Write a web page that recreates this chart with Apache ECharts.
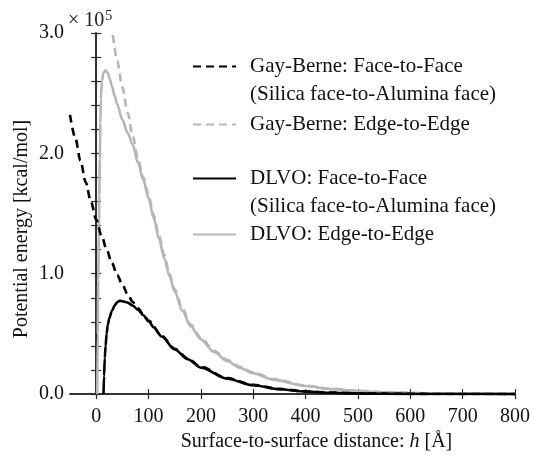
<!DOCTYPE html>
<html>
<head>
<meta charset="utf-8">
<script src="https://cdn.jsdelivr.net/npm/echarts@6/dist/echarts.min.js"></script>
<style>
  html, body { margin: 0; padding: 0; background: #fff; }
  #chart { width: 533px; height: 457px; }
</style>
</head>
<body>
<div id="chart"></div>
<script>
// h in Angstrom, energy in units of 1e5 kcal/mol
const gbFaceH = [-50, -40, -30, -20, -10, 0, 10, 20, 30, 40, 50, 60, 70, 80, 90, 100, 125, 150, 175, 200, 250, 300, 350, 400, 450, 500, 550, 600, 650, 700, 800];
const gbFaceV = [2.32, 2.13, 1.94, 1.76, 1.6, 1.45, 1.32, 1.2, 1.09, 0.99, 0.91, 0.83, 0.765, 0.712, 0.662, 0.611, 0.484, 0.377, 0.297, 0.226, 0.133, 0.077, 0.043, 0.023, 0.0125, 0.0067, 0.0036, 0.002, 0.001, 0.0005, 0];

const gbEdgeH = [20, 30, 40, 50, 60, 70, 80, 90, 100, 110, 120, 130, 140, 150, 165, 180, 200, 225, 250, 275, 300, 340, 400, 450, 500, 550, 600, 650, 700, 800];
const gbEdgeV = [3.3, 3.0, 2.77, 2.55, 2.34, 2.14, 1.95, 1.8, 1.655, 1.485, 1.315, 1.155, 1.0, 0.87, 0.708, 0.58, 0.468, 0.36, 0.284, 0.226, 0.179, 0.124, 0.071, 0.044, 0.027, 0.017, 0.01, 0.006, 0.0035, 0.001];

const dlvoFaceH = [14, 15, 16.5, 18, 20, 22, 25, 30, 35, 40, 45, 50, 60, 70, 80, 90, 100, 110, 125, 150, 175, 200, 250, 300, 350, 400, 450, 500, 550, 600, 700, 800];
const dlvoFaceV = [0, 0.15, 0.3, 0.4, 0.5, 0.57, 0.63, 0.69, 0.735, 0.762, 0.775, 0.772, 0.76, 0.735, 0.7, 0.655, 0.605, 0.555, 0.478, 0.37, 0.29, 0.22, 0.128, 0.073, 0.04, 0.021, 0.011, 0.0057, 0.003, 0.0015, 0.0004, 0];

const dlvoEdgeH = [2, 3, 4, 5, 6, 7, 8, 9, 11, 14, 18, 22, 26, 30, 35, 40, 50, 60, 70, 80, 90, 100, 110, 120, 130, 140, 150, 165, 180, 200, 225, 250, 275, 300, 340, 400, 450, 500, 550, 600, 650, 700, 800];
const dlvoEdgeV = [0, 0.5, 0.95, 1.3, 1.65, 1.95, 2.25, 2.45, 2.6, 2.67, 2.69, 2.67, 2.62, 2.56, 2.48, 2.41, 2.28, 2.17, 2.07, 1.92, 1.78, 1.63, 1.46, 1.29, 1.13, 0.98, 0.85, 0.69, 0.565, 0.455, 0.35, 0.275, 0.218, 0.172, 0.118, 0.067, 0.041, 0.025, 0.015, 0.009, 0.005, 0.003, 0.0005];

const xTicks = [0, 100, 200, 300, 400, 500, 600, 700, 800];
const yLabels = [0, 1, 2, 3];

const names = {
  gbFace: 'Gay-Berne: Face-to-Face',
  gbEdge: 'Gay-Berne: Edge-to-Edge',
  dlvoFace: 'DLVO: Face-to-Face',
  dlvoEdge: 'DLVO: Edge-to-Edge'
};
const subLine = '(Silica face-to-Alumina face)';

const FONT = 'Liberation Serif';
const GRAY = '#b6b7b4';
const AXIS = '#2a2a2a';

const pairs = (h, v) => h.map((x, i) => [x, v[i]]);

// one legend per entry so rows can sit where they are in the picture
function legendAt(name, top) {
  return {
    data: [name],
    left: 192,
    top: top,
    padding: 0,
    itemWidth: 43,
    itemHeight: 14,
    selectedMode: false,
    itemStyle: { opacity: 0, borderWidth: 0 },
    textStyle: { fontFamily: FONT, fontSize: 21, color: '#111', padding: [0, 0, 0, 9], lineHeight: 20 }
  };
}

const chart = echarts.init(document.getElementById('chart'));
chart.setOption({
  animation: false,
  grid: { left: 70, right: 18, top: 33, bottom: 53 },
  legend: [
    legendAt(names.gbFace, 56),
    legendAt(names.gbEdge, 114),
    legendAt(names.dlvoFace, 168),
    legendAt(names.dlvoEdge, 224)
  ],
  graphic: [
    { type: 'text', left: 250, top: 84, style: { text: subLine, font: '21px "Liberation Serif"', fill: '#111' } },
    { type: 'text', left: 250, top: 196, style: { text: subLine, font: '21px "Liberation Serif"', fill: '#111' } },
    {
      type: 'text', x: 22, y: 229, rotation: Math.PI / 2,
      style: { text: 'Potential energy [kcal/mol]', font: '20px "Liberation Serif"', fill: '#111', align: 'center', verticalAlign: 'middle' }
    },
    {
      type: 'text', left: 68, top: 9,
      style: {
        text: '{a|× 10}{b|5}',
        rich: {
          a: { fontFamily: FONT, fontSize: 20, fill: '#222' },
          b: { fontFamily: FONT, fontSize: 14, fill: '#222', padding: [0, 0, 10, 1] }
        }
      }
    }
  ],
  xAxis: [
    {
      type: 'value', min: -50, max: 800,
      name: 'Surface-to-surface distance: {i|h} [Å]',
      nameLocation: 'middle', nameGap: 31,
      nameTextStyle: {
        fontFamily: FONT, fontSize: 20, color: '#111', padding: [0, 0, 0, 48],
        rich: { i: { fontFamily: FONT, fontSize: 20, fontStyle: 'italic', color: '#111' } }
      },
      splitLine: { show: false },
      axisLine: { lineStyle: { color: AXIS, width: 1.6 } },
      axisTick: { inside: true, length: 5, customValues: xTicks, lineStyle: { color: AXIS, width: 1.2 } },
      axisLabel: { customValues: xTicks, margin: 13, fontFamily: FONT, fontSize: 20, color: '#111' }
    },
    {
      type: 'value', min: -50, max: 800, position: 'top',
      splitLine: { show: false },
      axisLine: { lineStyle: { color: AXIS, width: 1.6 } },
      axisTick: { inside: true, length: 5, customValues: xTicks, lineStyle: { color: AXIS, width: 1.2 } },
      axisLabel: { show: false }
    }
  ],
  yAxis: [
    {
      type: 'value', min: 0, max: 3, interval: 0.2,
      splitLine: { show: false },
      axisLine: { show: true, lineStyle: { color: AXIS, width: 1.6 } },
      axisTick: { show: true, inside: true, length: 5, lineStyle: { color: AXIS, width: 1.2 } },
      axisLabel: { customValues: yLabels, margin: 6, fontFamily: FONT, fontSize: 20, color: '#111', formatter: v => v.toFixed(1) }
    },
    {
      type: 'value', min: 0, max: 3, interval: 0.2, position: 'right',
      splitLine: { show: false },
      axisLine: { show: true, lineStyle: { color: AXIS, width: 1.6 } },
      axisTick: { show: true, inside: true, length: 5, lineStyle: { color: AXIS, width: 1.2 } },
      axisLabel: { show: false }
    }
  ],
  series: [
    {
      name: names.dlvoEdge, type: 'line', data: pairs(dlvoEdgeH, dlvoEdgeV),
      showSymbol: false, symbol: 'none', smooth: 0.3, smoothMonotone: 'x',
      color: GRAY, lineStyle: { color: GRAY, width: 2.6 }
    },
    {
      name: names.gbEdge, type: 'line', data: pairs(gbEdgeH, gbEdgeV),
      showSymbol: false, symbol: 'none', smooth: 0.3, smoothMonotone: 'x',
      color: GRAY, lineStyle: { color: GRAY, width: 2.6, type: [8, 5] }
    },
    {
      name: names.dlvoFace, type: 'line', data: pairs(dlvoFaceH, dlvoFaceV),
      showSymbol: false, symbol: 'none', smooth: 0.3, smoothMonotone: 'x',
      color: '#000', lineStyle: { color: '#000', width: 2.6 }
    },
    {
      name: names.gbFace, type: 'line', data: pairs(gbFaceH, gbFaceV),
      showSymbol: false, symbol: 'none', smooth: 0.3, smoothMonotone: 'x',
      color: '#000', lineStyle: { color: '#000', width: 2.6, type: [8, 5] }
    }
  ]
});
</script>
</body>
</html>
